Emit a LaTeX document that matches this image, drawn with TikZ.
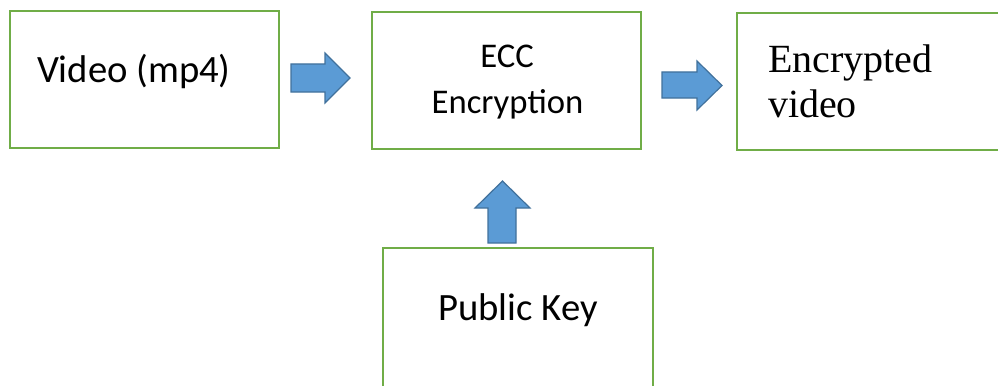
\documentclass[tikz,border=0pt]{standalone}
\usepackage{fontspec}
\setmainfont{Carlito}
\newfontfamily\timesfont{Liberation Serif}
\definecolor{boxgreen}{HTML}{70AD47}
\definecolor{arrowfill}{HTML}{5B9BD5}
\definecolor{arrowline}{HTML}{41719C}
\begin{document}
\begin{tikzpicture}[x=0.75pt,y=-0.75pt,
  greenbox/.style={draw=boxgreen,line width=1.8pt,fill=white,anchor=north west,inner sep=0pt,outer sep=0pt},
  blockarrow/.style={draw=arrowline,fill=arrowfill,line width=0.9pt,line join=miter},
  lbl/.style={inner sep=0pt,outer sep=0pt,anchor=base,font=\fontsize{26}{31}\selectfont},
  biglbl/.style={inner sep=0pt,outer sep=0pt,anchor=base west,font=\fontsize{29}{34}\selectfont},
  timeslbl/.style={inner sep=0pt,outer sep=0pt,anchor=base west,font=\timesfont\fontsize{30}{34}\selectfont}]
\useasboundingbox (0,0) rectangle (998,385);
\begin{scope}
\clip (0,0) rectangle (998,385);
% boxes (sizes in pt: 1px = 0.75pt)
\node[greenbox,minimum width=201.75pt,minimum height=102.75pt] (vbox) at (10,11) {};
\node[greenbox,minimum width=201.75pt,minimum height=102.75pt] (ebox) at (372,12) {};
\node[greenbox,minimum width=205pt,minimum height=102.75pt] (obox) at (737,13) {};
\node[greenbox,minimum width=202.5pt,minimum height=114pt] (kbox) at (383,248) {};
% block arrows
\draw[blockarrow] (291,64) -- (325,64) -- (325,53) -- (350,78) -- (325,103) -- (325,92) -- (291,92) -- cycle;
\draw[blockarrow] (662,72) -- (697,72) -- (697,61) -- (722,85.5) -- (697,110) -- (697,98) -- (662,98) -- cycle;
\draw[blockarrow] (488,243) -- (488,208) -- (475,208) -- (502.5,181) -- (530,208) -- (516,208) -- (516,243) -- cycle;
\end{scope}
% texts
\node[biglbl] (video) at (37,83) {Video (mp4)};
\node[lbl] (ecc) at (507,68) {ECC};
\node[lbl] (encr) at (507.5,113) {Encryption};
\node[lbl,font=\fontsize{29}{34}\selectfont] (pub) at (518,320) {Public Key};
\node[timeslbl] (enc1) at (768,72) {Encrypted};
\node[timeslbl] (enc2) at (768,117) {video};
\end{tikzpicture}
\end{document}
